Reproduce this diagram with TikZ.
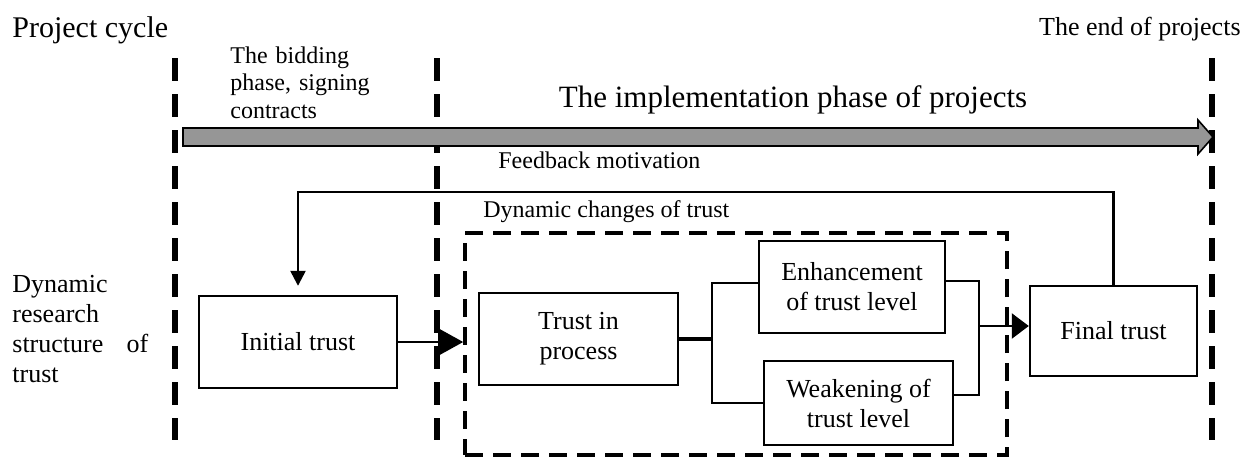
\documentclass[tikz,border=0pt]{standalone}
\usepackage{fontspec}
\setmainfont{Liberation Serif}
\usepackage{tikz}
\usetikzlibrary{arrows.meta, positioning, calc}
\definecolor{bargray}{RGB}{150, 150, 150}

\begin{document}
\begin{tikzpicture}[x=0.5pt, y=-0.5pt,
  box/.style={draw, line width=1.2pt, align=center, inner sep=0pt, font=\fontsize{13}{15}\selectfont},
  phase/.style={line width=2.6pt, dash pattern=on 11.5pt off 6.5pt},
  link/.style={line width=1.2pt},
  lbl/.style={inner sep=0pt, font=\fontsize{12}{13.8}\selectfont}]

  \useasboundingbox (0,0) rectangle (1254,457);

  % Phases of the project cycle
  \node[anchor=base west, inner sep=0pt, font=\fontsize{15}{17}\selectfont] (cycle) at (12,37) {Project cycle};
  \node[lbl, anchor=base east, font=\fontsize{13}{15}\selectfont] (endp) at (1241,35) {The end of projects};
  \node[lbl, anchor=base west, text width=70pt, align=left] (bid) at (230,63) {The bidding\\phase, signing\\contracts};
  \node[anchor=base, inner sep=0pt, font=\fontsize{15.5}{18}\selectfont] (impl) at (793,107) {The implementation phase of projects};

  \draw[phase] (175,58) -- (175,440);
  \draw[phase] (437,58) -- (437,440);
  \draw[phase] (1212,58) -- (1212,440);

  \draw[fill=bargray, line width=0.8pt] (183,128) -- (1198,128) -- (1198,120) -- (1213,137) -- (1198,154) -- (1198,146) -- (183,146) -- cycle;

  % Dynamic research structure of trust
  \node[anchor=base west, inner sep=0pt, text width=68pt, align=left, font=\fontsize{13}{15}\selectfont] (drs) at (12,292) {Dynamic\\research\\structure\hfill of\\trust};

  \node[lbl, anchor=base west] (fb) at (498,168) {Feedback motivation};
  \node[lbl, anchor=base west] (dct) at (483,217) {Dynamic changes of trust};

  \node[draw, line width=1.8pt, dash pattern=on 9pt off 5pt, minimum width=271pt, minimum height=111pt] (dynbox) at (736,344) {};

  \node[box, minimum width=99pt, minimum height=46pt] (init) at (298,342) {Initial trust};
  \node[box, minimum width=99.5pt, minimum height=46pt] (proc) at (578.5,339) {Trust in\\process};
  \node[box, minimum width=93pt, minimum height=46pt] (enh) at (852,287) {Enhancement\\of trust level};
  \node[box, minimum width=94.5pt, minimum height=42pt] (weak) at (858.5,403) {Weakening of\\trust level};
  \node[box, minimum width=83.5pt, minimum height=45pt] (final) at (1113.5,331) {Final trust};

  % Connectors
  \coordinate (fbturn) at (298,192);
  \coordinate (split) at (712,339);
  \coordinate (merge) at (979,326);

  \draw[link, shorten >=4.5pt, -{Triangle[length=7.5pt, width=7.5pt]}] (final.north) |- (fbturn) -- (init.north);
  \draw[link, -{Triangle[length=12.5pt, width=13.5pt]}] (init.east) -- (init.east -| dynbox.west);
  \draw[line width=2pt] (proc.east) -- (split);
  \draw[link] ([yshift=2pt]enh.west) -| (split) |- (weak.west);
  \draw[link] ([yshift=3pt]enh.east) -| (merge) |- ([yshift=4pt]weak.east);
  \draw[link, -{Triangle[length=8.5pt, width=12.5pt]}] (merge) -- (merge -| final.west);
\end{tikzpicture}
\end{document}
